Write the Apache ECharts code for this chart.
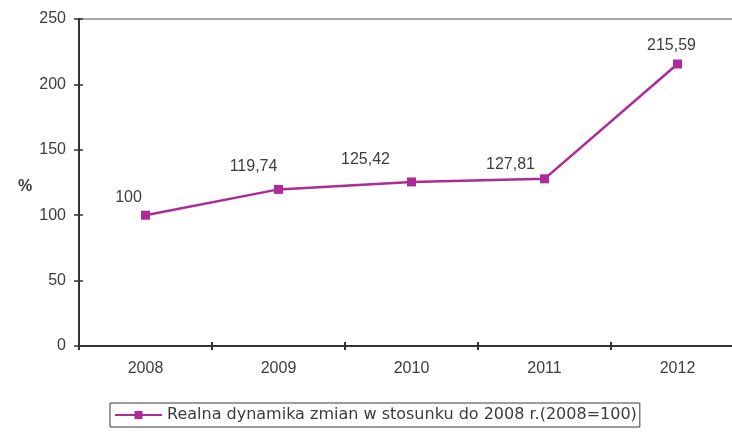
<!DOCTYPE html>
<html>
<head>
<meta charset="utf-8">
<style>
  html, body { margin: 0; padding: 0; background: #ffffff; }
  #chart { width: 732px; height: 432px; }
</style>
<script src="https://cdn.jsdelivr.net/npm/echarts@6/dist/echarts.min.js"></script>
</head>
<body>
<div id="chart"></div>
<script>
// Years on the category axis
const years = ['2008', '2009', '2010', '2011', '2012'];
// Real change index, 2008 = 100
const dynamics = [100, 119.74, 125.42, 127.81, 215.59];
const seriesName = 'Realna dynamika zmian w stosunku do 2008 r.(2008=100)';
// Label nudges [dx, dy] per point, labels sit up and to the left of the markers
const labelShift = [[-17, 0], [-25, -5], [-46, -5], [-34, 3], [-6, -1]];

const fmt = v => String(v).replace('.', ',');
const lineColor = '#AE2A98';
const textColor = '#3c3c3c';
const axisColor = '#333333';
const font = 'Liberation Sans, Arial, sans-serif';

const chart = echarts.init(document.getElementById('chart'), null, { renderer: 'canvas' });

// Shared scale settings; a second, label-less copy of each axis draws the
// inner half of the ticks so they cross the axis line.
const yBase = { type: 'value', min: 0, max: 250, interval: 50, splitLine: { show: false } };
const xBase = { type: 'category', data: years, boundaryGap: true, splitLine: { show: false } };

chart.setOption({
  animation: false,
  backgroundColor: '#ffffff',
  textStyle: { fontFamily: font },
  grid: {
    left: 79, top: 19, width: 665, height: 327,
    outerBoundsMode: 'none',
    containLabel: false,
    show: true, borderColor: '#8c8c8c', borderWidth: 1.5, backgroundColor: 'transparent'
  },
  title: {
    text: '%', left: 13, top: 174,
    textStyle: { fontSize: 16, fontWeight: 'bold', color: textColor, fontFamily: font }
  },
  legend: {
    left: 110, top: 403,
    data: [seriesName],
    itemWidth: 47, itemHeight: 10,
    borderColor: '#3a3a3a', borderWidth: 1, borderRadius: 0,
    padding: [4, 3, 4, 4],
    textStyle: { fontSize: 16, color: textColor, fontFamily: 'DejaVu Sans, sans-serif' }
  },
  xAxis: [
    Object.assign({}, xBase, {
      axisLine: { lineStyle: { color: axisColor, width: 2 } },
      axisTick: { show: true, length: 4, lineStyle: { color: axisColor, width: 2 } },
      axisLabel: { fontSize: 16, color: textColor, margin: 15, fontFamily: font }
    }),
    Object.assign({}, xBase, {
      position: 'bottom',
      axisLine: { show: false },
      axisTick: { show: true, inside: true, length: 4, lineStyle: { color: axisColor, width: 2 } },
      axisLabel: { show: false }
    })
  ],
  yAxis: [
    Object.assign({}, yBase, {
      axisLine: { show: true, lineStyle: { color: axisColor, width: 2 } },
      axisTick: { show: true, length: 5, lineStyle: { color: axisColor, width: 1.5 } },
      axisLabel: { fontSize: 16, color: textColor, margin: 13, fontFamily: font }
    }),
    Object.assign({}, yBase, {
      position: 'left',
      axisLine: { show: false },
      axisTick: { show: true, inside: true, length: 4, lineStyle: { color: axisColor, width: 1.5 } },
      axisLabel: { show: false }
    })
  ],
  series: [{
    name: seriesName,
    type: 'line',
    xAxisIndex: 0,
    yAxisIndex: 0,
    data: dynamics.map((v, i) => ({
      value: v,
      label: { offset: labelShift[i] }
    })),
    symbol: 'rect',
    symbolSize: 9,
    lineStyle: { color: lineColor, width: 2.5 },
    itemStyle: { color: lineColor },
    label: {
      show: true,
      position: 'top',
      distance: 5,
      fontSize: 16,
      color: textColor,
      fontFamily: font,
      formatter: p => fmt(p.value)
    }
  }]
});
</script>
</body>
</html>
